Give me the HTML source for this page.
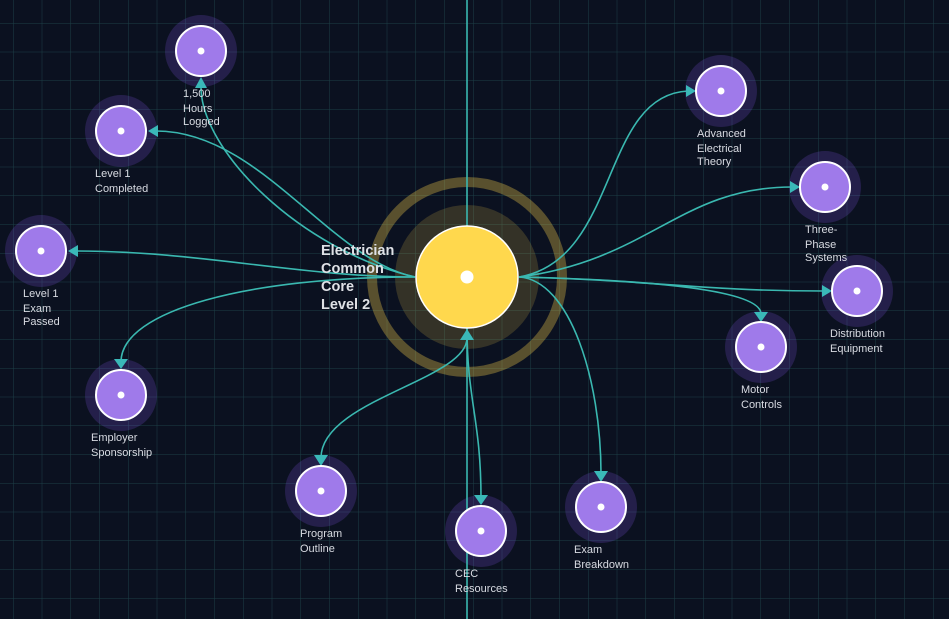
<!DOCTYPE html>
<html><head><meta charset="utf-8"><style>
html,body{margin:0;padding:0;background:#0b1120;}
svg{display:block;font-family:"Liberation Sans",sans-serif;}
.l{fill:#d8dbe2;font-size:11px;}
</style></head><body>
<svg width="949" height="619" viewBox="0 0 949 619">
<defs>
<pattern id="g" x="13" y="23" width="28.75" height="28.75" patternUnits="userSpaceOnUse">
<path d="M0 0V28.75M0 0H28.75" stroke="#1c3f46" stroke-width="1" fill="none"/>
</pattern>
</defs>
<rect width="949" height="619" fill="#0b1120"/>
<rect width="949" height="619" fill="url(#g)"/>
<circle cx="467" cy="277" r="95" fill="none" stroke="rgba(255,216,77,0.32)" stroke-width="10"/>
<circle cx="467" cy="277" r="72" fill="rgba(255,216,77,0.17)"/>
<g fill="rgba(139,92,246,0.2)">
<circle cx="201" cy="51" r="36"/><circle cx="121" cy="131" r="36"/><circle cx="41" cy="251" r="36"/>
<circle cx="121" cy="395" r="36"/><circle cx="321" cy="491" r="36"/><circle cx="481" cy="531" r="36"/>
<circle cx="601" cy="507" r="36"/><circle cx="761" cy="347" r="36"/><circle cx="857" cy="291" r="36"/>
<circle cx="825" cy="187" r="36"/><circle cx="721" cy="91" r="36"/>
</g>
<line x1="467" y1="0" x2="467" y2="619" stroke="#3ab8b0" stroke-width="1.6"/>
<g fill="none" stroke="#3ab8b0" stroke-width="1.6">
<path d="M415 277C300 250 200 150 201 86"/>
<path d="M415 277C330 260 260 131 156 131"/>
<path d="M415 277C300 277 200 251 76 251"/>
<path d="M415 277C250 277 121 310 121 362"/>
<path d="M321 458C321 400 467 380 467 338"/>
<path d="M467 328C467 400 481 420 481 498"/>
<path d="M519 277C620 260 600 95 688 91"/>
<path d="M519 277C650 260 680 187 792 187"/>
<path d="M519 277C650 280 700 291 824 291"/>
<path d="M519 277C650 280 761 290 761 314"/>
<path d="M519 277C570 280 601 380 601 474"/>
</g>
<g fill="#3ab8b8">
<polygon points="201,77 195,88 207,88"/>
<polygon points="148,131 158,125 158,137"/>
<polygon points="68,251 78,245 78,257"/>
<polygon points="121,369 114,359 128,359"/>
<polygon points="467,329 460,340 474,340"/>
<polygon points="481,505 474,495 488,495"/>
<polygon points="696,91 686,85 686,97"/>
<polygon points="800,187 790,181 790,193"/>
<polygon points="832,291 822,285 822,297"/>
<polygon points="761,322 754,312 768,312"/>
<polygon points="601,482 594,471 608,471"/>
<polygon points="321,466 314,455 328,455"/>
</g>
<circle cx="467" cy="277" r="51" fill="#ffd84d" stroke="#fff" stroke-width="1.5"/>
<circle cx="467" cy="277" r="6.5" fill="#fff"/>
<g>
<g transform="translate(201,51)"><circle r="25" fill="#9f7aea" stroke="#fff" stroke-width="2"/><circle r="3.5" fill="#fff"/></g>
<g transform="translate(121,131)"><circle r="25" fill="#9f7aea" stroke="#fff" stroke-width="2"/><circle r="3.5" fill="#fff"/></g>
<g transform="translate(41,251)"><circle r="25" fill="#9f7aea" stroke="#fff" stroke-width="2"/><circle r="3.5" fill="#fff"/></g>
<g transform="translate(121,395)"><circle r="25" fill="#9f7aea" stroke="#fff" stroke-width="2"/><circle r="3.5" fill="#fff"/></g>
<g transform="translate(321,491)"><circle r="25" fill="#9f7aea" stroke="#fff" stroke-width="2"/><circle r="3.5" fill="#fff"/></g>
<g transform="translate(481,531)"><circle r="25" fill="#9f7aea" stroke="#fff" stroke-width="2"/><circle r="3.5" fill="#fff"/></g>
<g transform="translate(601,507)"><circle r="25" fill="#9f7aea" stroke="#fff" stroke-width="2"/><circle r="3.5" fill="#fff"/></g>
<g transform="translate(761,347)"><circle r="25" fill="#9f7aea" stroke="#fff" stroke-width="2"/><circle r="3.5" fill="#fff"/></g>
<g transform="translate(857,291)"><circle r="25" fill="#9f7aea" stroke="#fff" stroke-width="2"/><circle r="3.5" fill="#fff"/></g>
<g transform="translate(825,187)"><circle r="25" fill="#9f7aea" stroke="#fff" stroke-width="2"/><circle r="3.5" fill="#fff"/></g>
<g transform="translate(721,91)"><circle r="25" fill="#9f7aea" stroke="#fff" stroke-width="2"/><circle r="3.5" fill="#fff"/></g>
</g>
<g font-size="14.5" font-weight="bold" fill="#dfe1e6">
<text x="321" y="255">Electrician</text>
<text x="321" y="273">Common</text>
<text x="321" y="291">Core</text>
<text x="321" y="309">Level 2</text>
</g>
<g class="l">
<text x="183" y="97" class="l">1,500</text><text x="183" y="112" class="l">Hours</text><text x="183" y="125" class="l">Logged</text>
<text x="95" y="177" class="l">Level 1</text><text x="95" y="192" class="l">Completed</text>
<text x="23" y="297" class="l">Level 1</text><text x="23" y="312" class="l">Exam</text><text x="23" y="325" class="l">Passed</text>
<text x="91" y="441" class="l">Employer</text><text x="91" y="456" class="l">Sponsorship</text>
<text x="300" y="537" class="l">Program</text><text x="300" y="552" class="l">Outline</text>
<text x="455" y="577" class="l">CEC</text><text x="455" y="592" class="l">Resources</text>
<text x="574" y="553" class="l">Exam</text><text x="574" y="568" class="l">Breakdown</text>
<text x="741" y="393" class="l">Motor</text><text x="741" y="408" class="l">Controls</text>
<text x="830" y="337" class="l">Distribution</text><text x="830" y="352" class="l">Equipment</text>
<text x="805" y="233" class="l">Three-</text><text x="805" y="248" class="l">Phase</text><text x="805" y="261" class="l">Systems</text>
<text x="697" y="137" class="l">Advanced</text><text x="697" y="152" class="l">Electrical</text><text x="697" y="165" class="l">Theory</text>
</g>
</svg>
</body></html>
